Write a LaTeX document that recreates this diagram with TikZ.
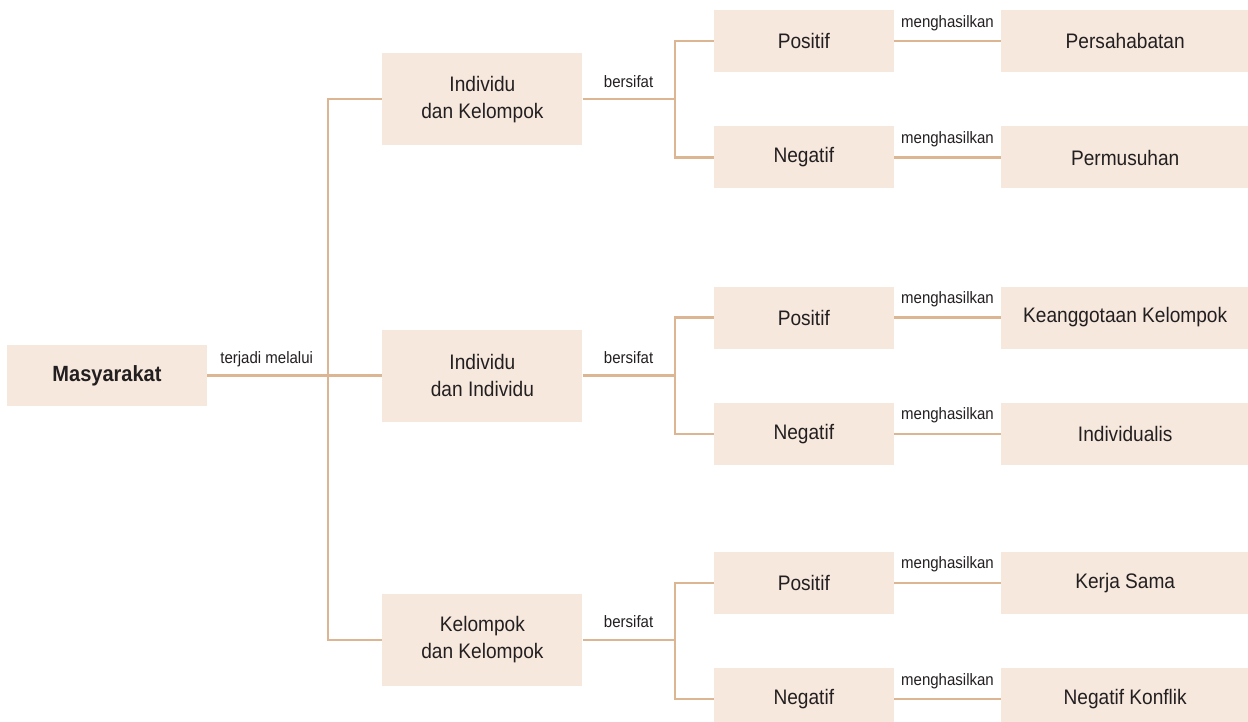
\documentclass[tikz,border=0pt]{standalone}
\usepackage{fontspec}
\setmainfont{Liberation Sans}[FakeStretch=0.91]
\usetikzlibrary{positioning}

\definecolor{boxfill}{HTML}{F6E8DD}
\definecolor{linkline}{HTML}{DCB593}
\definecolor{inktext}{HTML}{231F20}

\tikzset{
    box/.style={fill=boxfill, text=inktext, inner sep=0pt, align=center,
        font=\fontsize{21}{27}\selectfont},
    rootbox/.style={box, minimum width=200pt, minimum height=61pt,
        font=\fontsize{22}{27}\selectfont\bfseries},
    pairbox/.style={box, minimum width=200pt, minimum height=92pt},
    signbox/.style={box, minimum width=180pt, minimum height=62pt},
    resultbox/.style={box, minimum width=248pt, minimum height=62pt},
    link/.style={draw=linkline, line width=2.2pt},
    lbl/.style={font=\fontsize{16.5}{18}\selectfont, text=inktext,
        inner sep=0pt, anchor=base, yshift=12pt}
}

\begin{document}
\begin{tikzpicture}[x=1pt, y=-1pt]
    \useasboundingbox (0,0) rectangle (1248,722);

    \node[rootbox] (masyarakat) at (107,375.5) {Masyarakat};
    \node[pairbox, right=175pt of masyarakat] (ind_ind) {Individu\\dan Individu};
    \node[pairbox, above=184pt of ind_ind] (ind_kel) {Individu\\dan Kelompok};
    \node[pairbox, below=172pt of ind_ind] (kel_kel) {Kelompok\\dan Kelompok};

    \node[signbox, right=131pt of ind_kel, yshift=58pt] (pos_a) {Positif};
    \node[signbox, below=54pt of pos_a] (neg_a) {Negatif};
    \node[signbox, right=131pt of ind_ind, yshift=58pt] (pos_b) {Positif};
    \node[signbox, below=54pt of pos_b] (neg_b) {Negatif};
    \node[signbox, right=131pt of kel_kel, yshift=57pt] (pos_c) {Positif};
    \node[signbox, below=54pt of pos_c] (neg_c) {Negatif};

    \node[resultbox, right=107pt of pos_a] (persahabatan) {Persahabatan};
    \node[resultbox, right=107pt of neg_a] (permusuhan) {Permusuhan};
    \node[resultbox, right=107pt of pos_b] (keanggotaan) {Keanggotaan Kelompok};
    \node[resultbox, right=107pt of neg_b] (individualis) {Individualis};
    \node[resultbox, right=107pt of pos_c] (kerjasama) {Kerja Sama};
    \node[resultbox, right=107pt of neg_c] (konflik) {Negatif Konflik};

    \coordinate (trunk) at (328,376);

    \draw[link] (masyarakat.east) -- node[lbl, pos=0.34] {terjadi melalui}
        (masyarakat.east -| ind_ind.west);
    \draw[link] (ind_kel.west) -| (trunk) |- (kel_kel.west);

    \draw[link] (ind_kel.east) -- node[lbl] {bersifat} ++(92,0) coordinate (fork_a);
    \draw[link] (pos_a.west) -| (fork_a) |- (neg_a.west);
    \draw[link] (ind_ind.east) -- node[lbl] {bersifat} ++(92,0) coordinate (fork_b);
    \draw[link] (pos_b.west) -| (fork_b) |- (neg_b.west);
    \draw[link] (kel_kel.east) -- node[lbl] {bersifat} ++(92,0) coordinate (fork_c);
    \draw[link] (pos_c.west) -| (fork_c) |- (neg_c.west);

    \draw[link] (pos_a) -- node[lbl, yshift=2pt] {menghasilkan} (persahabatan);
    \draw[link] (neg_a) -- node[lbl, yshift=2pt] {menghasilkan} (permusuhan);
    \draw[link] (pos_b) -- node[lbl, yshift=2pt] {menghasilkan} (keanggotaan);
    \draw[link] (neg_b) -- node[lbl, yshift=2pt] {menghasilkan} (individualis);
    \draw[link] (pos_c) -- node[lbl, yshift=2pt] {menghasilkan} (kerjasama);
    \draw[link] (neg_c) -- node[lbl, yshift=2pt] {menghasilkan} (konflik);
\end{tikzpicture}
\end{document}
